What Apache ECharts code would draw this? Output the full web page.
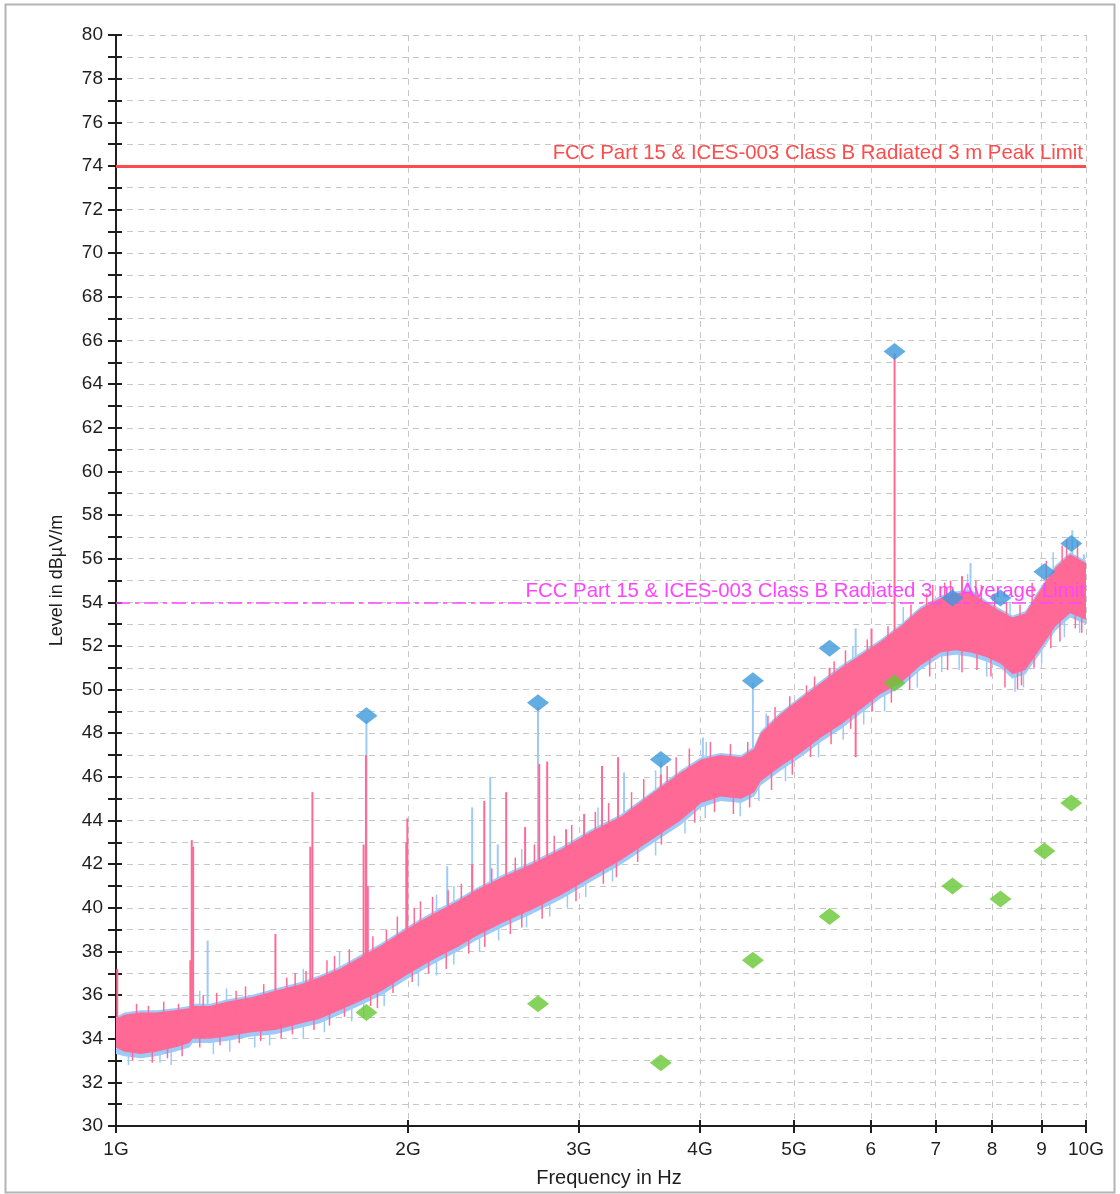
<!DOCTYPE html>
<html>
<head>
<meta charset="utf-8">
<script src="https://cdn.jsdelivr.net/npm/echarts@6/dist/echarts.min.js"></script>
<style>
  html, body { margin: 0; padding: 0; background: #ffffff; }
  #chart { width: 1120px; height: 1194px; }
</style>
</head>
<body>
<div id="chart"></div>
<script>
// Radiated emission scan 1-10 GHz, levels in dBµV/m, frequencies in GHz.

// Envelope of the peak-detector trace (pink) and max-hold trace (light blue)
const bandFreq = [1.0, 1.02, 1.06, 1.10, 1.15, 1.19, 1.20, 1.25, 1.30, 1.38,
                  1.46, 1.55, 1.62, 1.70, 1.78, 1.88, 1.99, 2.08, 2.16, 2.25,
                  2.35, 2.50, 2.68, 2.88, 3.09, 3.32, 3.56, 3.82, 4.01, 4.20,
                  4.41, 4.55, 4.62, 4.85, 5.08, 5.33, 5.59, 5.86, 6.14, 6.44,
                  6.75, 7.08, 7.34, 7.60, 7.88, 8.16, 8.40, 8.66, 8.98, 9.30,
                  9.63, 10.0];
const peakTraceHi = [34.9, 35.1, 35.2, 35.2, 35.3, 35.4, 35.5, 35.5, 35.7, 35.9,
                     36.2, 36.5, 36.8, 37.2, 37.7, 38.3, 39.0, 39.5, 39.9, 40.3,
                     40.8, 41.4, 42.0, 42.7, 43.5, 44.2, 45.2, 46.2, 46.8, 47.0,
                     46.9, 47.3, 48.0, 48.9, 49.6, 50.3, 51.0, 51.6, 52.2, 52.9,
                     53.7, 54.2, 54.4, 54.5, 54.0, 53.6, 53.3, 53.5, 54.6, 55.6,
                     56.2, 55.8];
const peakTraceLo = [33.6, 33.4, 33.3, 33.4, 33.6, 33.8, 34.0, 34.0, 34.1, 34.3,
                     34.4, 34.7, 34.9, 35.3, 35.7, 36.2, 36.9, 37.4, 37.8, 38.2,
                     38.7, 39.3, 39.9, 40.6, 41.4, 42.2, 43.1, 44.0, 44.8, 45.1,
                     45.0, 45.3, 45.8, 46.5, 47.1, 47.8, 48.4, 49.1, 49.8, 50.3,
                     51.1, 51.7, 51.8, 51.7, 51.5, 51.2, 50.7, 50.9, 51.9, 52.9,
                     53.5, 53.2];
const maxHoldHi = [35.0, 35.2, 35.3, 35.3, 35.4, 35.5, 35.6, 35.6, 35.8, 36.0,
                   36.3, 36.6, 36.9, 37.3, 37.8, 38.4, 39.1, 39.6, 40.0, 40.4,
                   40.9, 41.5, 42.1, 42.8, 43.6, 44.3, 45.3, 46.3, 46.9, 47.1,
                   47.0, 47.4, 48.1, 49.0, 49.7, 50.4, 51.1, 51.7, 52.3, 53.0,
                   53.8, 54.3, 54.5, 54.6, 54.1, 53.7, 53.4, 53.6, 54.7, 55.7,
                   56.3, 55.9];
const maxHoldLo = [33.3, 33.2, 33.1, 33.2, 33.4, 33.6, 33.8, 33.8, 33.9, 34.1,
                   34.2, 34.5, 34.7, 35.1, 35.5, 36.0, 36.7, 37.2, 37.6, 38.0,
                   38.5, 39.1, 39.7, 40.4, 41.2, 42.0, 42.9, 43.8, 44.6, 44.9,
                   44.8, 45.1, 45.6, 46.3, 46.9, 47.6, 48.2, 48.9, 49.6, 50.1,
                   50.9, 51.5, 51.6, 51.5, 51.3, 51.0, 50.5, 50.7, 51.7, 52.7,
                   53.3, 53.0];

// Narrow emissions standing out of the noise floor: [GHz, from dB, to dB]
const peakSpikes = [
  [1.003, 34.0, 37.2], [1.193, 35.0, 37.6], [1.197, 35.0, 43.1], [1.201, 35.0, 42.8],
  [1.460, 35.8, 38.8], [1.586, 36.2, 42.8], [1.594, 36.2, 45.3],
  [1.800, 37.3, 42.9], [1.810, 37.3, 47.0], [1.818, 37.3, 41.0],
  [1.992, 38.5, 43.0], [1.997, 38.5, 44.1],
  [2.329, 40.5, 42.0], [2.397, 40.5, 44.9], [2.525, 41.0, 45.3], [2.641, 41.5, 43.7],
  [2.731, 41.5, 46.6], [2.783, 41.5, 46.7], [2.911, 42.5, 43.6], [3.038, 43.0, 44.3],
  [3.170, 43.5, 46.5], [3.293, 43.8, 46.9], [3.645, 45.0, 46.1],
  [5.441, 49.5, 51.0], [5.788, 46.9, 49.5], [6.010, 50.5, 52.8],
  [6.348, 51.0, 65.4], [7.450, 53.5, 55.2]
];
const maxHoldSpikes = [
  [1.243, 35.3, 38.5], [1.812, 37.3, 48.6], [2.195, 39.5, 41.9], [2.329, 40.5, 44.6],
  [2.431, 40.5, 46.0], [2.475, 40.8, 42.9], [2.723, 41.5, 49.2], [3.340, 44.0, 46.2],
  [3.645, 45.0, 46.7], [4.027, 46.5, 47.8], [4.535, 46.5, 50.3], [5.788, 50.0, 52.8],
  [7.602, 54.0, 55.8], [9.680, 55.5, 57.3], [9.950, 55.5, 56.2]
];

// Noise excursions along the edges of the traces: [GHz, from dB, to dB]
const peakNoiseTop = [
  [1.05, 34.6, 35.6], [1.08, 34.6, 35.5], [1.12, 34.7, 35.7], [1.16, 34.7, 35.6],
  [1.23, 35.0, 36.0], [1.27, 35.0, 36.1], [1.33, 35.2, 36.2], [1.36, 35.3, 36.4],
  [1.42, 35.5, 36.5], [1.50, 35.7, 36.8], [1.53, 35.8, 37.0], [1.57, 36.0, 37.1],
  [1.65, 36.4, 37.6], [1.68, 36.5, 37.8], [1.74, 36.8, 38.1], [1.84, 37.4, 38.7],
  [1.90, 37.8, 39.0], [1.95, 38.2, 39.6], [2.03, 38.7, 40.0], [2.06, 38.9, 40.3],
  [2.12, 39.1, 40.5], [2.20, 39.5, 40.8], [2.27, 39.8, 41.1], [2.44, 40.5, 41.8],
  [2.58, 41.0, 42.3], [2.70, 41.5, 42.9], [2.83, 42.0, 43.3], [2.95, 42.4, 43.8],
  [3.12, 43.0, 44.4], [3.22, 43.3, 44.8], [3.40, 44.0, 45.3], [3.50, 44.4, 45.9],
  [3.70, 45.2, 46.5], [3.78, 45.5, 46.9], [3.90, 45.9, 47.3], [4.10, 46.3, 47.6],
  [4.30, 46.3, 47.5], [4.48, 46.5, 47.6], [4.70, 47.6, 48.8], [4.78, 47.9, 49.2],
  [4.95, 48.6, 49.7], [5.15, 49.2, 50.2], [5.25, 49.5, 50.6], [5.50, 50.2, 51.3],
  [5.65, 50.6, 51.8], [5.95, 51.2, 52.3], [6.25, 51.8, 52.9], [6.60, 52.7, 53.9],
  [6.85, 53.2, 54.4], [6.95, 53.4, 54.8], [7.15, 53.6, 54.9], [7.25, 53.7, 55.0],
  [7.70, 53.7, 55.0], [7.80, 53.5, 54.8], [8.05, 53.1, 54.4], [8.28, 52.8, 54.0],
  [8.55, 52.8, 53.9], [8.80, 53.6, 54.9], [9.10, 54.7, 55.9], [9.45, 55.4, 56.6],
  [9.55, 55.5, 56.9], [9.80, 55.5, 56.8]
];
const peakNoiseBottom = [
  [1.04, 33.9, 33.0], [1.09, 33.9, 32.9], [1.13, 34.0, 33.1], [1.17, 34.1, 33.2],
  [1.22, 34.5, 33.6], [1.28, 34.6, 33.7], [1.34, 34.7, 33.8], [1.41, 34.8, 33.9],
  [1.48, 34.9, 34.0], [1.52, 35.1, 34.2], [1.60, 35.3, 34.4], [1.66, 35.7, 34.6],
  [1.72, 36.0, 35.0], [1.83, 36.5, 35.5], [1.86, 36.7, 35.4], [1.93, 37.2, 36.1],
  [2.02, 37.6, 36.6], [2.10, 38.0, 37.0], [2.19, 38.5, 37.2], [2.31, 39.0, 37.9],
  [2.40, 39.3, 38.2], [2.55, 39.9, 38.8], [2.62, 40.1, 39.1], [2.75, 40.6, 39.5],
  [2.98, 41.5, 40.3], [3.18, 42.2, 41.1], [3.28, 42.6, 41.4], [3.45, 43.1, 42.1],
  [3.65, 43.8, 42.9], [3.95, 45.0, 43.9], [4.14, 45.5, 44.4], [4.33, 45.5, 44.3],
  [4.50, 45.7, 44.6], [4.74, 46.6, 45.4], [4.98, 47.3, 46.1], [5.20, 48.0, 46.9],
  [5.46, 48.6, 47.5], [5.72, 49.3, 48.2], [6.02, 50.0, 49.0], [6.30, 50.5, 49.4],
  [6.58, 51.2, 50.0], [6.90, 51.9, 50.6], [7.20, 52.2, 50.9], [7.45, 52.2, 50.8],
  [7.72, 52.1, 50.9], [7.98, 51.8, 50.6], [8.25, 51.4, 50.1], [8.50, 51.2, 50.0],
  [8.58, 51.3, 50.2], [8.84, 52.0, 51.0], [9.20, 53.0, 51.9], [9.40, 53.4, 52.2],
  [9.75, 53.9, 52.8], [9.90, 53.7, 52.6]
];
const maxHoldNoiseTop = [
  [1.22, 35.3, 36.2], [1.30, 35.5, 36.3], [1.56, 36.3, 37.2], [1.70, 36.9, 38.0],
  [2.14, 39.5, 40.6], [2.23, 39.9, 41.0], [2.62, 41.5, 42.7], [3.14, 43.3, 44.6],
  [3.60, 45.0, 46.3], [4.06, 46.5, 47.6], [4.68, 47.8, 48.9], [5.75, 51.0, 52.0],
  [6.48, 52.6, 53.8], [7.55, 54.0, 55.3], [8.35, 52.9, 54.0], [9.25, 55.0, 56.3]
];
const maxHoldNoiseBottom = [
  [1.03, 33.5, 32.8], [1.11, 33.5, 32.9], [1.14, 33.6, 32.8], [1.26, 34.0, 33.3],
  [1.31, 34.1, 33.4], [1.39, 34.3, 33.6], [1.44, 34.4, 33.7], [1.56, 34.7, 34.0],
  [1.64, 35.0, 34.3], [1.75, 35.5, 34.8], [1.80, 35.8, 35.0], [1.89, 36.3, 35.5],
  [2.05, 37.2, 36.4], [2.14, 37.6, 36.9], [2.23, 38.1, 37.4], [2.37, 38.7, 38.0],
  [2.48, 39.2, 38.5], [2.65, 39.8, 39.1], [2.80, 40.3, 39.6], [2.92, 40.8, 40.0],
  [3.05, 41.2, 40.5], [3.25, 42.0, 41.2], [3.60, 43.2, 42.4], [3.86, 44.1, 43.4],
  [4.05, 44.9, 44.1], [4.40, 45.0, 44.2], [4.60, 45.7, 44.9], [4.90, 46.6, 45.8],
  [5.30, 47.7, 46.9], [5.62, 48.5, 47.7], [5.90, 49.2, 48.4], [6.20, 49.9, 49.0],
  [6.70, 51.0, 50.1], [7.10, 51.7, 50.8], [7.40, 51.8, 50.9], [7.90, 51.5, 50.6],
  [8.45, 50.7, 49.9], [8.62, 50.9, 50.1], [9.00, 51.9, 51.2], [9.50, 53.2, 52.4],
  [9.85, 53.5, 52.6]
];

// Final measurements
const finalFreq  = [1.812, 2.723, 3.645, 4.535, 5.441, 6.348, 7.284, 8.163, 9.060, 9.657];
const finalPeak  = [48.8, 49.4, 46.8, 50.4, 51.9, 65.5, 54.2, 54.2, 55.4, 56.7];
const finalAvg   = [35.2, 35.6, 32.9, 37.6, 39.6, 50.3, 41.0, 40.4, 42.6, 44.8];

// Limits
const peakLimitLevel = 74;
const avgLimitLevel = 54;
const peakLimitName = 'FCC Part 15 & ICES-003 Class B Radiated 3 m Peak Limit';
const avgLimitName = 'FCC Part 15 & ICES-003 Class B Radiated 3 m Average Limit';

// Axes
const xTickValues = [1, 2, 3, 4, 5, 6, 7, 8, 9, 10];
const xTickLabels = ['1G', '2G', '3G', '4G', '5G', '6', '7', '8', '9', '10G'];
const yMin = 30, yMax = 80;

const FONT = '"Liberation Sans", Arial, sans-serif';
const AXIS_COLOR = '#1e1e1e';
const GRID_COLOR = '#c6c6c6';
const PINK = '#ff6996';
const LIGHT_BLUE = '#9ccbfa';

function bandSeries(hi, lo, color, z) {
  return {
    type: 'custom', z: z, silent: true, animation: false,
    data: [[bandFreq[0], lo[0]]],
    encode: { x: 0, y: 1 },
    renderItem: function (params, api) {
      const pts = [];
      for (let i = 0; i < bandFreq.length; i++) pts.push(api.coord([bandFreq[i], hi[i]]));
      for (let i = bandFreq.length - 1; i >= 0; i--) pts.push(api.coord([bandFreq[i], lo[i]]));
      return { type: 'polygon', shape: { points: pts }, style: { fill: color } };
    }
  };
}

function spikeSeries(list, color, z, width) {
  return {
    type: 'custom', z: z, silent: true, animation: false,
    data: list,
    encode: { x: 0, y: 1 },
    renderItem: function (params, api) {
      const a = api.coord([api.value(0), api.value(1)]);
      const b = api.coord([api.value(0), api.value(2)]);
      return {
        type: 'line',
        shape: { x1: a[0], y1: a[1], x2: b[0], y2: b[1] },
        style: { stroke: color, lineWidth: width }
      };
    }
  };
}

const chart = echarts.init(document.getElementById('chart'));

chart.setOption({
  animation: false,
  backgroundColor: '#ffffff',
  textStyle: { fontFamily: FONT },
  graphic: [{
    type: 'rect', silent: true, z: 100,
    shape: { x: 5.5, y: 4.5, width: 1109, height: 1188 },
    style: { fill: null, stroke: '#b4b4b4', lineWidth: 2 }
  }],
  grid: { left: 116, right: 34, top: 35, bottom: 68 },
  xAxis: [{
    type: 'log', logBase: 10, min: 1, max: 10,
    name: 'Frequency in Hz', nameLocation: 'middle', nameGap: 42,
    nameTextStyle: { fontSize: 20, color: AXIS_COLOR, fontFamily: FONT, padding: [0, 0, 0, 16] },
    axisLine: { show: true, lineStyle: { color: AXIS_COLOR, width: 2 } },
    axisTick: { show: true, customValues: xTickValues, length: 7, lineStyle: { color: AXIS_COLOR, width: 2 } },
    axisLabel: {
      customValues: xTickValues, margin: 14, fontSize: 19, color: AXIS_COLOR, fontFamily: FONT,
      formatter: function (v) { return xTickLabels[xTickValues.indexOf(Math.round(v))] || ''; }
    },
    splitLine: { show: true, lineStyle: { color: GRID_COLOR, type: [6, 5], width: 1 } }
  }, {
    type: 'log', logBase: 10, min: 1, max: 10, position: 'bottom',
    axisLine: { show: false },
    axisTick: { show: true, inside: true, customValues: xTickValues, length: 6, lineStyle: { color: AXIS_COLOR, width: 2 } },
    axisLabel: { show: false },
    splitLine: { show: false }
  }],
  yAxis: [{
    type: 'value', min: yMin, max: yMax, interval: 1,
    name: 'Level in dBµV/m', nameLocation: 'middle', nameGap: 50,
    nameTextStyle: { fontSize: 18, color: AXIS_COLOR, fontFamily: FONT },
    axisLine: { show: true, lineStyle: { color: AXIS_COLOR, width: 2 } },
    axisTick: { show: true, length: 8, lineStyle: { color: AXIS_COLOR, width: 2 } },
    axisLabel: {
      margin: 13, fontSize: 19, color: AXIS_COLOR, fontFamily: FONT,
      formatter: function (v) { return v % 2 === 0 ? String(v) : ''; }
    },
    splitLine: { show: true, lineStyle: { color: GRID_COLOR, type: [6, 5], width: 1 } }
  }, {
    type: 'value', min: yMin, max: yMax, interval: 1, position: 'left',
    axisLine: { show: false },
    axisTick: { show: true, inside: true, length: 6, lineStyle: { color: AXIS_COLOR, width: 2 } },
    axisLabel: { show: false },
    splitLine: { show: false }
  }],
  series: [
    bandSeries(maxHoldHi, maxHoldLo, LIGHT_BLUE, 2),
    spikeSeries(maxHoldNoiseBottom, LIGHT_BLUE, 2, 1.5),
    spikeSeries(maxHoldNoiseTop, LIGHT_BLUE, 2, 1.5),
    spikeSeries(maxHoldSpikes, LIGHT_BLUE, 3, 2),
    bandSeries(peakTraceHi, peakTraceLo, PINK, 4),
    spikeSeries(peakNoiseTop, PINK, 4, 1.5),
    spikeSeries(peakNoiseBottom, PINK, 4, 1.5),
    spikeSeries(peakSpikes, PINK, 5, 2),
    {
      type: 'line', data: [], z: 6, silent: true,
      markLine: {
        silent: true, symbol: 'none', animation: false,
        data: [{
          yAxis: peakLimitLevel,
          lineStyle: { color: '#ff4b4b', width: 3, type: 'solid' },
          label: { formatter: peakLimitName, position: 'insideEndTop', distance: 3,
                   color: '#ff4b4b', fontSize: 20.4, fontFamily: FONT }
        }, {
          yAxis: avgLimitLevel,
          lineStyle: { color: '#ff44ff', width: 1.5, type: [14, 5, 4, 5] },
          label: { formatter: avgLimitName, position: 'insideEndTop', distance: 1,
                   color: '#ff44ff', fontSize: 20.4, fontFamily: FONT }
        }]
      }
    },
    {
      type: 'scatter', z: 8, silent: true,
      symbol: 'diamond', symbolSize: [22, 17],
      itemStyle: { color: '#3c98dc' },
      data: finalFreq.map(function (f, i) { return [f, finalPeak[i]]; })
    },
    {
      type: 'scatter', z: 8, silent: true,
      symbol: 'diamond', symbolSize: [22, 17],
      itemStyle: { color: '#66c833' },
      data: finalFreq.map(function (f, i) { return [f, finalAvg[i]]; })
    }
  ]
});
</script>
</body>
</html>
